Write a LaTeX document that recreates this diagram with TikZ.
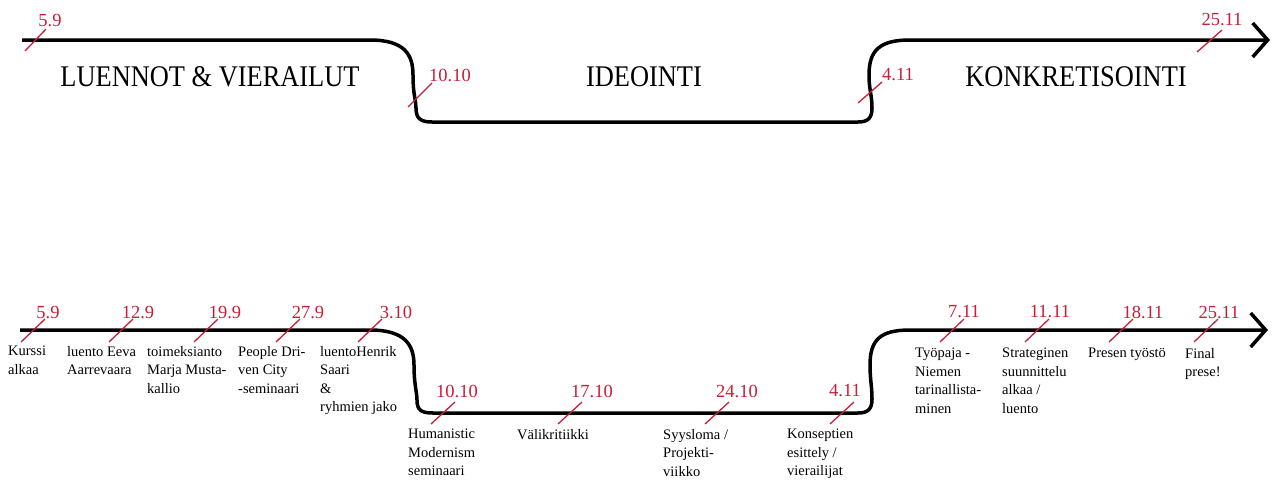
\documentclass[tikz,border=0pt]{standalone}
\usepackage{fontspec}
\setmainfont{Liberation Serif}
\newfontfamily\phasefont[FakeStretch=0.88]{Liberation Serif}
\usetikzlibrary{arrows.meta}
\definecolor{datered}{RGB}{200,30,55}
\tikzset{
  track/.style={line width=3.5pt, line join=round, -{Straight Barb[length=15pt,width=34pt]}},
  datetick/.style={datered, line width=1.3pt},
  datelabel/.style={text=datered, inner sep=0pt, font=\fontsize{18.5}{18.5}\selectfont},
  phase/.style={inner sep=0pt, font=\phasefont\fontsize{30}{30}\selectfont},
  note/.style={inner sep=0pt, anchor=north west, align=left, font=\fontsize{14.5}{18.5}\selectfont},
}
\begin{document}
\begin{tikzpicture}[x=1pt,y=-1pt]
    \useasboundingbox (0,0) rectangle (1276,483);
    % upper timeline: phases
    \draw [track] (22,40) -- (370,40) .. controls (405,40) and (413,55) .. (413,75) .. controls (413,95) and (416,100) .. (416,108) .. controls (416,118) and (420,122) .. (432,122) -- (858,122) .. controls (868,122) and (872,118) .. (872,108) .. controls (872,95) and (869,90) .. (869,75) .. controls (869,50) and (880,40) .. (910,40) -- (1270,40);
        \draw [datetick] (25,51) -- (46,29);
        \draw [datetick] (408,107) -- (432,83);
        \draw [datetick] (858,103) -- (882,82);
        \draw [datetick] (1197,52) -- (1222,30);
        \node [datelabel] (u59) at (50,21) {5.9};
        \node [datelabel] (u1010) at (450,75) {10.10};
        \node [datelabel] (u411) at (898,75) {4.11};
        \node [datelabel] (u2511) at (1222,20) {25.11};
        \node [phase] (luennot) at (210,77) {LUENNOT \& VIERAILUT};
        \node [phase] (ideointi) at (644,77) {IDEOINTI};
        \node [phase] (konkr) at (1076,77) {KONKRETISOINTI};
    % lower timeline: weeks
    \draw [track] (20,330) -- (370,330) .. controls (405,330) and (414,345) .. (414,365) .. controls (414,385) and (417,392) .. (417,400) .. controls (417,410) and (421,413) .. (433,413) -- (858,413) .. controls (868,413) and (872,409) .. (872,399) .. controls (872,386) and (870,380) .. (870,365) .. controls (870,340) and (880,330) .. (910,330) -- (1268,330);
        \draw [datetick] (21,342) -- (45,319);
        \draw [datetick] (109,342) -- (133,319);
        \draw [datetick] (194,342) -- (218,319);
        \draw [datetick] (276,342) -- (300,319);
        \draw [datetick] (358,342) -- (382,319);
        \draw [datetick] (431,424) -- (455,402);
        \draw [datetick] (558,424) -- (582,402);
        \draw [datetick] (705,424) -- (729,402);
        \draw [datetick] (830,424) -- (854,402);
        \draw [datetick] (940,342) -- (964,319);
        \draw [datetick] (1025,342) -- (1049,319);
        \draw [datetick] (1109,342) -- (1133,319);
        \draw [datetick] (1194,342) -- (1218,319);
        \node [datelabel] (a59) at (48,312) {5.9};
        \node [datelabel] (a129) at (138,312) {12.9};
        \node [datelabel] (a199) at (225,312) {19.9};
        \node [datelabel] (a279) at (308,312) {27.9};
        \node [datelabel] (a310) at (396,312) {3.10};
        \node [datelabel] (a1010) at (457,391) {10.10};
        \node [datelabel] (a1710) at (592,391) {17.10};
        \node [datelabel] (a2410) at (737,391) {24.10};
        \node [datelabel] (a411) at (845,391) {4.11};
        \node [datelabel] (a711) at (964,312) {7.11};
        \node [datelabel] (a1111) at (1050,312) {11.11};
        \node [datelabel] (a1811) at (1143,312) {18.11};
        \node [datelabel] (a2511) at (1219,312) {25.11};
        \node [note] (n59) at (8,346) {Kurssi\\alkaa};
        \node [note] (n129) at (67,346) {luento Eeva\\Aarrevaara};
        \node [note] (n199) at (147,346) {toimeksianto\\Marja Musta-\\kallio};
        \node [note] (n279) at (238,346) {People Dri-\\ven City\\-seminaari};
        \node [note] (n310) at (320,346) {luentoHenrik\\Saari\\\&\\ryhmien jako};
        \node [note] (n1010) at (408,429) {Humanistic\\Modernism\\seminaari};
        \node [note] (n1710) at (517,429) {Välikritiikki};
        \node [note] (n2410) at (663,429) {Syysloma /\\Projekti-\\viikko};
        \node [note] (n411) at (787,429) {Konseptien\\esittely /\\vierailijat};
        \node [note] (n711) at (915,348) {Työpaja -\\Niemen\\tarinallista-\\minen};
        \node [note] (n1111) at (1002,348) {Strateginen\\suunnittelu\\alkaa /\\luento};
        \node [note] (n1811) at (1088,348) {Presen työstö};
        \node [note] (n2511) at (1185,348) {Final\\prese!};
  \end{tikzpicture}
\end{document}
